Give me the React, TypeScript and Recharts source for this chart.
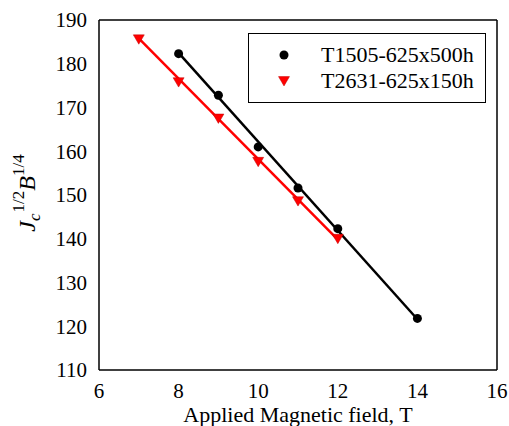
import { ComposedChart, XAxis, YAxis, Line, Scatter } from 'recharts';

const xTicks = [6, 8, 10, 12, 14, 16];
const yTicks = [110, 120, 130, 140, 150, 160, 170, 180, 190];

const seriesNames = ['T1505-625x500h', 'T2631-625x150h'];

// measured points
const fieldA = [8, 9, 10, 11, 12, 14];
const valuesA = [182.3, 172.8, 161.0, 151.6, 142.3, 121.8];
const fieldB = [7, 8, 9, 10, 11, 12];
const valuesB = [185.6, 175.8, 167.5, 157.6, 148.6, 140.0];

// fitted lines, read as end points
const fitFieldA = [8, 14];
const fitValuesA = [182.5, 121.6];
const fitFieldB = [7, 12];
const fitValuesB = [185.8, 139.8];

const toRows = (xs: number[], ys: number[]) => xs.map((x, i) => ({ x, y: ys[i] }));

const pointsA = toRows(fieldA, valuesA);
const pointsB = toRows(fieldB, valuesB);
const fitA = toRows(fitFieldA, fitValuesA);
const fitB = toRows(fitFieldB, fitValuesB);

const font = '"Liberation Serif", "Times New Roman", serif';
const RED = '#ff0000';
const edge = { stroke: '#000', strokeWidth: 1.5 };

const Circle = (props: any) => <circle cx={props.cx} cy={props.cy} r={4.5} fill="#000" />;
const Nothing = () => null;

const DownTriangle = (props: any) => {
  const { cx, cy } = props;
  const s = 5.5;
  return (
    <polygon
      points={`${cx - s},${cy - s * 0.8} ${cx + s},${cy - s * 0.8} ${cx},${cy + s * 0.9}`}
      fill={RED}
      stroke="#c00000"
      strokeWidth={0.5}
    />
  );
};

const YLabel = () => (
  <text
    x={35}
    y={193}
    transform="rotate(-90, 35, 193)"
    textAnchor="middle"
    fontFamily={font}
    fontSize={24}
    fill="#000"
  >
    <tspan fontStyle="italic">J</tspan>
    <tspan fontStyle="italic" fontSize={17} dy={5}>c</tspan>
    <tspan fontSize={17} dx={1} dy={-16}>1/2</tspan>
    <tspan fontStyle="italic" dy={11}>B</tspan>
    <tspan fontSize={17} dy={-11}>1/4</tspan>
  </text>
);

export default function App() {
  return (
    <div style={{ position: 'relative', width: 509, height: 426, fontFamily: font }}>
      <style>{'html, body { margin: 0; padding: 0; overflow: hidden; }'}</style>
      <ComposedChart
        width={509}
        height={426}
        margin={{ top: 20, right: 12, bottom: 0, left: 0 }}
      >
        <XAxis
          xAxisId="x"
          type="number"
          dataKey="x"
          domain={[6, 16]}
          ticks={xTicks}
          allowDataOverflow
          height={56}
          tickLine={false}
          tickSize={0}
          tickMargin={13}
          axisLine={edge}
          tick={{ fill: '#000', fontSize: 21, fontFamily: font }}
          label={{
            value: 'Applied Magnetic field, T',
            position: 'insideBottom',
            offset: 4,
            fill: '#000',
            fontSize: 22,
            fontFamily: font,
          }}
        />
        <XAxis
          xAxisId="xin"
          type="number"
          dataKey="x"
          orientation="bottom"
          mirror
          domain={[6, 16]}
          ticks={xTicks}
          allowDataOverflow
          tick={false}
          axisLine={false}
          tickSize={6}
          tickLine={edge}
        />
        <XAxis
          xAxisId="xtop"
          type="number"
          dataKey="x"
          orientation="top"
          mirror
          domain={[6, 16]}
          ticks={xTicks}
          allowDataOverflow
          tick={false}
          tickSize={6}
          axisLine={edge}
          tickLine={edge}
        />
        <YAxis
          yAxisId="y"
          type="number"
          dataKey="y"
          domain={[110, 190]}
          ticks={yTicks}
          allowDataOverflow
          width={99}
          tickLine={false}
          tickSize={0}
          tickMargin={12}
          axisLine={edge}
          tick={{ fill: '#000', fontSize: 21, fontFamily: font }}
          label={<YLabel />}
        />
        <YAxis
          yAxisId="yin"
          type="number"
          dataKey="y"
          orientation="left"
          mirror
          domain={[110, 190]}
          ticks={yTicks}
          allowDataOverflow
          tick={false}
          axisLine={false}
          tickSize={6}
          tickLine={edge}
        />
        <YAxis
          yAxisId="yright"
          type="number"
          dataKey="y"
          orientation="right"
          mirror
          domain={[110, 190]}
          ticks={yTicks}
          allowDataOverflow
          tick={false}
          tickSize={6}
          axisLine={edge}
          tickLine={edge}
        />
        {/* invisible series so that the frame axes get a scale */}
        <Scatter xAxisId="xin" yAxisId="yin" data={pointsA} dataKey="y" shape={Nothing} isAnimationActive={false} />
        <Scatter xAxisId="xtop" yAxisId="yright" data={pointsA} dataKey="y" shape={Nothing} isAnimationActive={false} />
        <Line
          xAxisId="x"
          yAxisId="y"
          data={fitA}
          dataKey="y"
          type="linear"
          stroke="#000"
          strokeWidth={2.5}
          dot={false}
          activeDot={false}
          isAnimationActive={false}
        />
        <Line
          xAxisId="x"
          yAxisId="y"
          data={fitB}
          dataKey="y"
          type="linear"
          stroke={RED}
          strokeWidth={2.5}
          dot={false}
          activeDot={false}
          isAnimationActive={false}
        />
        <Scatter
          xAxisId="x"
          yAxisId="y"
          name={seriesNames[0]}
          data={pointsA}
          dataKey="y"
          shape={Circle}
          isAnimationActive={false}
        />
        <Scatter
          xAxisId="x"
          yAxisId="y"
          name={seriesNames[1]}
          data={pointsB}
          dataKey="y"
          shape={DownTriangle}
          isAnimationActive={false}
        />
      </ComposedChart>
      <div
        style={{
          position: 'absolute',
          left: 248,
          top: 33,
          width: 236,
          height: 68,
          border: '1.5px solid #000',
          background: '#fff',
          fontSize: 22,
          color: '#000',
        }}
      >
        {seriesNames.map((name, i) => (
          <div
            key={name}
            style={{ position: 'absolute', left: 0, top: 8 + i * 26, height: 26, display: 'flex', alignItems: 'center' }}
          >
            <svg width={70} height={26} style={{ display: 'block' }}>
              {i === 0 ? <Circle cx={35} cy={13} /> : <DownTriangle cx={35} cy={13} />}
            </svg>
            <span style={{ marginLeft: 2, lineHeight: '26px', whiteSpace: 'nowrap' }}>{name}</span>
          </div>
        ))}
      </div>
    </div>
  );
}
